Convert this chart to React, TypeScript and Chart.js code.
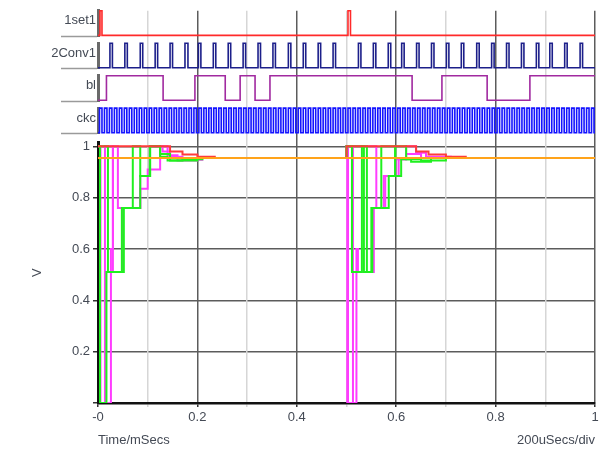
import { useEffect, useRef } from 'react';
import { Chart, registerables } from 'chart.js';

Chart.register(...registerables);

// ---------- digital rows (top) ----------
const rowNames = ['1set1', '2Conv1', 'bl', 'ckc'];
const rowColors = ['#ff2a2a', '#1c1f8a', '#a12aa0', '#1414ff'];

// edge times in mSecs; every edge toggles the level, each row starts low
const set1Edges = [0.004, 0.008, 0.503, 0.508];
const conv1Edges = [
  0.024, 0.029, 0.054, 0.059, 0.085, 0.09, 0.115, 0.12, 0.145, 0.15, 0.175, 0.181,
  0.202, 0.207, 0.232, 0.237, 0.262, 0.267, 0.292, 0.297, 0.322, 0.327, 0.352, 0.357,
  0.383, 0.388, 0.413, 0.418, 0.443, 0.448, 0.473, 0.478,
  0.524, 0.529, 0.554, 0.559, 0.584, 0.589, 0.611, 0.616, 0.641, 0.646, 0.671, 0.676,
  0.701, 0.706, 0.731, 0.736, 0.762, 0.767, 0.792, 0.797, 0.822, 0.827, 0.852, 0.857,
  0.882, 0.887, 0.909, 0.914, 0.939, 0.944, 0.97, 0.975,
];
const blEdges = [0.017, 0.131, 0.195, 0.256, 0.286, 0.316, 0.346, 0.632, 0.692, 0.783, 0.869];
const ckcEdges = [
  0.003, 0.008, 0.013, 0.018, 0.023, 0.028, 0.033, 0.038, 0.043, 0.048,
  0.053, 0.058, 0.063, 0.068, 0.073, 0.078, 0.083, 0.088, 0.093, 0.098,
  0.103, 0.108, 0.113, 0.118, 0.123, 0.128, 0.133, 0.138, 0.143, 0.148,
  0.153, 0.158, 0.163, 0.168, 0.173, 0.178, 0.183, 0.188, 0.193, 0.198,
  0.203, 0.208, 0.213, 0.218, 0.223, 0.228, 0.233, 0.238, 0.243, 0.248,
  0.253, 0.258, 0.263, 0.268, 0.273, 0.278, 0.283, 0.288, 0.293, 0.298,
  0.303, 0.308, 0.313, 0.318, 0.323, 0.328, 0.333, 0.338, 0.343, 0.348,
  0.353, 0.358, 0.363, 0.368, 0.373, 0.378, 0.383, 0.388, 0.393, 0.398,
  0.403, 0.408, 0.413, 0.418, 0.423, 0.428, 0.433, 0.438, 0.443, 0.448,
  0.453, 0.458, 0.463, 0.468, 0.473, 0.478, 0.483, 0.488, 0.493, 0.498,
  0.503, 0.508, 0.513, 0.518, 0.523, 0.528, 0.533, 0.538, 0.543, 0.548,
  0.553, 0.558, 0.563, 0.568, 0.573, 0.578, 0.583, 0.588, 0.593, 0.598,
  0.603, 0.608, 0.613, 0.618, 0.623, 0.628, 0.633, 0.638, 0.643, 0.648,
  0.653, 0.658, 0.663, 0.668, 0.673, 0.678, 0.683, 0.688, 0.693, 0.698,
  0.703, 0.708, 0.713, 0.718, 0.723, 0.728, 0.733, 0.738, 0.743, 0.748,
  0.753, 0.758, 0.763, 0.768, 0.773, 0.778, 0.783, 0.788, 0.793, 0.798,
  0.803, 0.808, 0.813, 0.818, 0.823, 0.828, 0.833, 0.838, 0.843, 0.848,
  0.853, 0.858, 0.863, 0.868, 0.873, 0.878, 0.883, 0.888, 0.893, 0.898,
  0.903, 0.908, 0.913, 0.918, 0.923, 0.928, 0.933, 0.938, 0.943, 0.948,
  0.953, 0.958, 0.963, 0.968, 0.973, 0.978, 0.983, 0.988, 0.993, 0.998,
];
const digitalEdges = [set1Edges, conv1Edges, blEdges, ckcEdges];

// ---------- analog traces (V vs mSecs), value holds from each time on ----------
const orangeT = [0, 1];
const orangeV = [0.955, 0.955];

const redT = [0, 0.145, 0.17, 0.2, 0.235, 0.5, 0.64, 0.665, 0.7, 0.74, 1];
const redV = [1, 0.98, 0.968, 0.96, 0.955, 1, 0.98, 0.968, 0.96, 0.955, 0.955];

const greenAT = [0, 0.004, 0.017, 0.048, 0.07, 0.085, 0.104, 0.125, 0.14, 0.2, 0.5, 0.511, 0.531, 0.541, 0.55, 0.57, 0.598, 0.61, 0.63, 0.67, 1];
const greenAV = [1, 0, 0.51, 0.76, 1, 0.885, 1, 0.96, 0.945, 0.955, 1, 0.51, 1, 0.51, 0.76, 1, 0.885, 0.95, 0.94, 0.955, 0.955];

const greenBT = [0, 0.02, 0.052, 0.085, 0.105, 0.125, 0.145, 0.17, 0.21, 0.5, 0.535, 0.552, 0.585, 0.598, 0.62, 0.65, 0.7, 1];
const greenBV = [1, 0.51, 0.76, 0.885, 1, 0.97, 0.945, 0.95, 0.955, 1, 0.51, 0.76, 0.885, 1, 0.95, 0.945, 0.955, 0.955];

const magentaAT = [0, 0.004, 0.014, 0.03, 0.05, 0.085, 0.104, 0.13, 0.145, 0.17, 0.21, 0.5, 0.5015, 0.513, 0.56, 0.575, 0.6, 0.62, 0.64, 0.66, 0.71, 1];
const magentaAV = [1, 0, 1, 0.51, 0.76, 0.885, 1, 0.98, 0.96, 0.948, 0.955, 1, 0, 1, 0.76, 0.885, 0.95, 1, 0.975, 0.96, 0.955, 0.955];

const magentaBT = [0, 0.005, 0.026, 0.03, 0.04, 0.085, 0.1, 0.125, 0.14, 0.16, 0.2, 0.5, 0.503, 0.52, 0.523, 0.555, 0.578, 0.605, 0.62, 0.65, 1];
const magentaBV = [1, 0, 0.6, 1, 0.76, 0.835, 0.91, 1, 0.965, 0.945, 0.955, 1, 0, 0.6, 0.51, 0.76, 0.885, 0.95, 0.97, 0.955, 0.955];

// ---------- axes ----------
const xTickValues = [0, 0.1, 0.2, 0.3, 0.4, 0.5, 0.6, 0.7, 0.8, 0.9, 1];
const xTickLabels = ['-0', '', '0.2', '', '0.4', '', '0.6', '', '0.8', '', '1'];
const yTickLabels = ['', '0.2', '0.4', '0.6', '0.8', '1'];
const xTitle = 'Time/mSecs';
const xScaleNote = '200uSecs/div';
const yTitle = 'V';

const FONT = "'Liberation Sans', Arial, sans-serif";
const TEXT = '#444a55';

function steps(t: number[], v: number[]) {
  return t.map((x, i) => ({ x, y: v[i] }));
}

function digital(edges: number[]) {
  const pts = [{ x: 0, y: 0 }];
  let level = 0;
  for (const e of edges) {
    level = 1 - level;
    pts.push({ x: e, y: level });
  }
  pts.push({ x: 1, y: level });
  return pts;
}

export default function App() {
  const ref = useRef<HTMLCanvasElement>(null);

  useEffect(() => {
    const analog = (label: string, data: any, color: string, width = 2) => ({
      label,
      data,
      borderColor: color,
      borderWidth: width,
      stepped: true,
      pointRadius: 0,
      fill: false,
      yAxisID: 'y',
      xAxisID: 'x',
    });

    const datasets: any[] = [
      analog('orange', steps(orangeT, orangeV), '#ffa31a', 2),
      analog('red', steps(redT, redV), '#ff3b3b', 2),
      analog('greenA', steps(greenAT, greenAV), '#1ff01f', 2),
      analog('greenB', steps(greenBT, greenBV), '#1ff01f', 2),
      analog('magentaA', steps(magentaAT, magentaAV), '#ff3cff', 2),
      analog('magentaB', steps(magentaBT, magentaBV), '#ff3cff', 2),
    ];
    rowNames.forEach((name, i) => {
      datasets.push({
        label: name,
        data: digital(digitalEdges[i]),
        borderColor: rowColors[i],
        borderWidth: 1.6,
        stepped: true,
        pointRadius: 0,
        fill: false,
        clip: false,
        yAxisID: 'd' + (i + 1),
        xAxisID: 'x',
      });
    });

    const fixWidth = (s: any) => {
      s.width = 98;
    };

    const digitalAxis = (i: number) => ({
      type: 'linear',
      position: 'left',
      stack: 'L',
      stackWeight: 26,
      min: -0.04,
      max: 1,
      afterBuildTicks: (s: any) => {
        s.ticks = [{ value: -0.04 }, { value: 0.6 }];
      },
      afterFit: fixWidth,
      ticks: {
        autoSkip: false,
        callback: (_v: any, idx: number) => (idx === 1 ? rowNames[i] : ''),
        padding: -35,
        color: TEXT,
        font: { family: FONT, size: 13 },
      },
      grid: {
        drawOnChartArea: false,
        drawTicks: true,
        tickLength: 37,
        tickWidth: 1.5,
        tickColor: (c: any) => (c.index === 0 ? '#9a9a9a' : 'rgba(0,0,0,0)'),
      },
      border: { display: true, color: '#6a6a6a', width: 3 },
    });

    const spacer = (w: number) => ({
      type: 'linear',
      position: 'left',
      stack: 'L',
      stackWeight: w,
      display: false,
      min: 0,
      max: 1,
    });

    const scales: any = {
      // left stack is laid out bottom-up in reverse definition order
      y: {
        type: 'linear',
        position: 'left',
        stack: 'L',
        stackWeight: 265,
        min: 0,
        max: 1.015,
        afterFit: fixWidth,
        ticks: {
          stepSize: 0.2,
          includeBounds: false,
          callback: (v: number) => yTickLabels[Math.round(v * 5)] ?? '',
          padding: 3,
          color: TEXT,
          font: { family: FONT, size: 13 },
        },
        grid: { color: '#5c5c5c', lineWidth: 1.5, tickLength: 5, tickColor: '#333' },
        border: { display: true, color: '#111', width: 3 },
        title: {
          display: true,
          text: yTitle,
          color: TEXT,
          font: { family: FONT, size: 13 },
          padding: { top: 30, bottom: 0 },
        },
      },
      g4: spacer(9),
      d4: digitalAxis(3),
      g3: spacer(7),
      d3: digitalAxis(2),
      g2: spacer(7),
      d2: digitalAxis(1),
      g1: spacer(7),
      d1: digitalAxis(0),
      x: {
        type: 'linear',
        position: 'bottom',
        min: 0,
        max: 1,
        afterBuildTicks: (s: any) => {
          s.ticks = xTickValues.map((value) => ({ value }));
        },
        ticks: {
          autoSkip: false,
          maxRotation: 0,
          callback: (_v: any, idx: number) => xTickLabels[idx],
          padding: 3,
          color: TEXT,
          font: { family: FONT, size: 13 },
        },
        grid: {
          color: (c: any) => {
            const idx = c.index;
            if (idx === 0) return 'rgba(0,0,0,0)';
            return idx % 2 ? '#d6d6d6' : '#5c5c5c';
          },
          lineWidth: 1.5,
          tickLength: 4,
          tickColor: (c: any) => (c.index % 2 ? '#d6d6d6' : '#333'),
        },
        border: { display: true, color: '#111', width: 2.5 },
        title: {
          display: true,
          text: xTitle,
          align: 'start',
          color: TEXT,
          font: { family: FONT, size: 13 },
          padding: { top: 4, bottom: 8 },
        },
      },
    };

    const chart = new Chart(ref.current as HTMLCanvasElement, {
      type: 'line',
      data: { datasets },
      options: {
        animation: false,
        responsive: false,
        devicePixelRatio: 1,
        parsing: false,
        normalized: true,
        layout: { padding: { top: 7, right: 10, bottom: 0, left: 0 } },
        plugins: {
          legend: { display: false },
          tooltip: { enabled: false },
          title: {
            display: true,
            position: 'bottom',
            align: 'end',
            text: xScaleNote,
            color: TEXT,
            font: { family: FONT, size: 13, weight: 'normal' },
            padding: { top: -23.6, bottom: 14.8 },
          },
        },
        scales,
      } as any,
    });
    return () => chart.destroy();
  }, []);

  return (
    <div style={{ position: 'fixed', left: 0, top: 0, width: 605, height: 463, background: '#fff' }}>
      <canvas ref={ref} width={605} height={463} style={{ display: 'block', width: 605, height: 463 }} />
    </div>
  );
}
